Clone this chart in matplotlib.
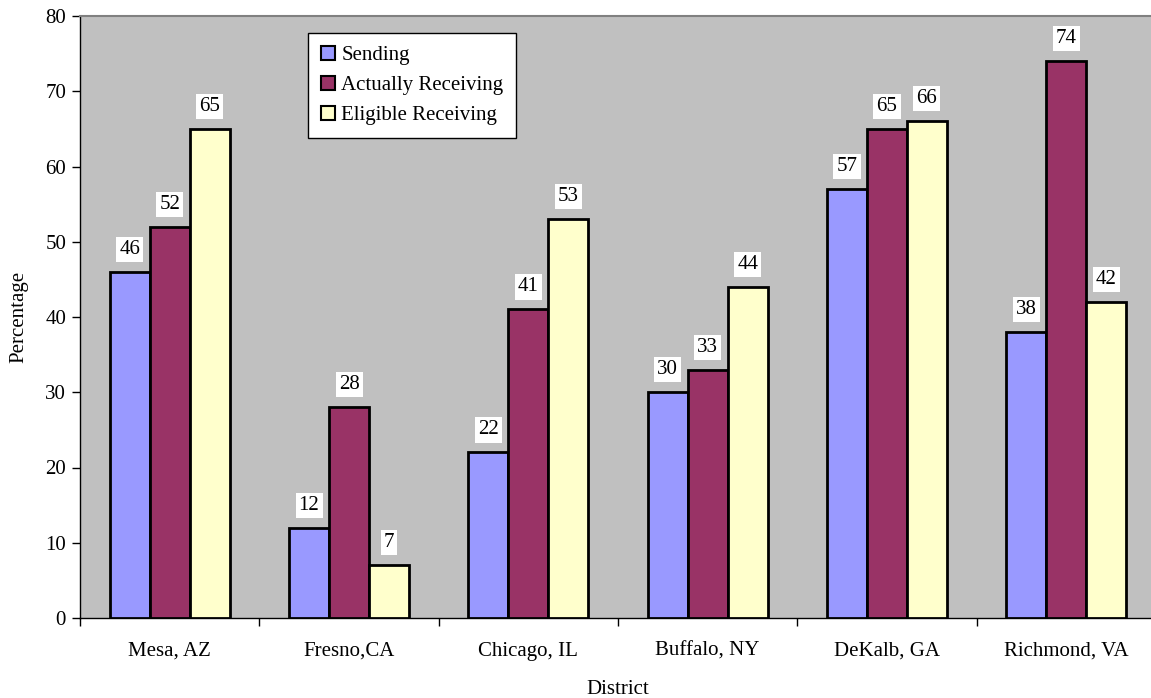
import matplotlib
matplotlib.use("Agg")
import matplotlib.pyplot as plt
from matplotlib.patches import Patch
import numpy as np

categories = ["Mesa, AZ", "Fresno,CA", "Chicago, IL", "Buffalo, NY", "DeKalb, GA", "Richmond, VA"]
sending = [46, 12, 22, 30, 57, 38]
actually_receiving = [52, 28, 41, 33, 65, 74]
eligible_receiving = [65, 7, 53, 44, 66, 42]
series_names = ["Sending", "Actually Receiving", "Eligible Receiving"]
colors = ["#9999FF", "#993366", "#FFFFCC"]
yticks = [0, 10, 20, 30, 40, 50, 60, 70, 80]

plt.rcParams['font.family'] = ['Liberation Serif', 'DejaVu Serif']
W, H = 1151, 698
fig = plt.figure(figsize=(W / 100, H / 100), dpi=100)
ax = fig.add_axes([80 / W, 80 / H, 1076 / W, 602 / H])
ax.set_facecolor("#C0C0C0")

x = np.arange(len(categories))
bw = 0.223
fs = 15
for i, (vals, col) in enumerate(zip([sending, actually_receiving, eligible_receiving], colors)):
    pos = x + (i - 1) * bw
    ax.bar(pos, vals, width=bw, color=col, edgecolor="black", linewidth=2, zorder=3)
    for xi, v in zip(pos, vals):
        ax.annotate(str(v), (xi, v), xytext=(0, 13), textcoords="offset pixels",
                    ha="center", va="bottom", fontsize=fs, zorder=4,
                    bbox=dict(boxstyle="square,pad=0.15", facecolor="white", edgecolor="none"))

ax.set_xlim(-0.5, len(categories) - 0.5)
ax.set_ylim(0, 80)
ax.set_yticks(yticks)
ax.tick_params(axis="y", direction="out", length=6, width=1, labelsize=fs, pad=4)
ax.set_xticks(np.arange(len(categories) + 1) - 0.5)
ax.set_xticklabels([])
ax.tick_params(axis="x", which="major", direction="out", length=6, width=1)
ax.set_xticks(x, minor=True)
ax.set_xticklabels(categories, minor=True, fontsize=fs)
ax.tick_params(axis="x", which="minor", length=0, pad=17)

for s in ["left", "bottom"]:
    ax.spines[s].set_color("black")
    ax.spines[s].set_linewidth(1)
ax.spines["top"].set_color("#808080")
ax.spines["top"].set_linewidth(1.5)
ax.spines["right"].set_visible(False)

ax.set_ylabel("Percentage", fontsize=fs, labelpad=12)
ax.set_xlabel("District", fontsize=fs, labelpad=14)

handles = [Patch(facecolor=c, edgecolor="black", linewidth=1.5) for c in colors]
leg = ax.legend(handles, series_names, loc="upper left", bbox_to_anchor=(308 / W, 1 - 33 / H),
                bbox_transform=fig.transFigure, borderaxespad=0, fontsize=fs, frameon=True,
                fancybox=False, handlelength=0.7, handleheight=0.7, handletextpad=0.3,
                labelspacing=0.5, borderpad=0.6)
leg.get_frame().set_edgecolor("black")
leg.get_frame().set_linewidth(1)
leg.get_frame().set_alpha(1)

fig.savefig("out.png", dpi=100)
